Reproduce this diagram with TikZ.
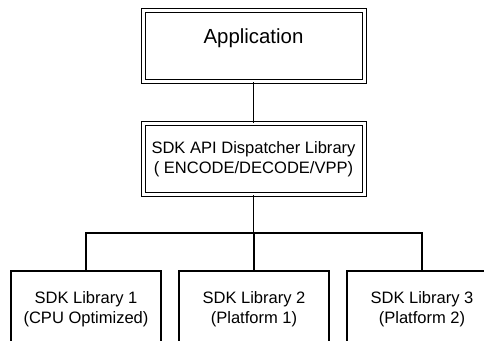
\documentclass[tikz,border=0pt]{standalone}
\usepackage{fontspec}
\setmainfont{Liberation Sans}
\begin{document}
\begin{tikzpicture}[x=0.75pt,y=-0.75pt,
  dbox/.style={draw, double, double distance=2.25pt, line width=0.75pt,
    minimum width=165.75pt, minimum height=53.25pt, inner sep=0pt, align=center},
  libbox/.style={draw, line width=0.95pt, minimum width=112.5pt, minimum height=57pt,
    inner sep=0pt, align=center, font=\fontsize{12.4}{14.6}\selectfont},
  conn/.style={line width=0.95pt}]
\useasboundingbox (0,0) rectangle (484,341);
\clip (0,0) rectangle (484,341);
\fill[white] (0,0) rectangle (484,341);
\node[dbox, font=\fontsize{15.3}{18}\selectfont] (app) at (253.5,46.5) {\raisebox{6.5pt}[\height][\depth]{Application}};
\node[dbox, font=\fontsize{12.4}{15}\selectfont] (disp) at (253.5,159.5) {SDK API Dispatcher Library\\( ENCODE/DECODE/VPP)};
\node[libbox] (b1) at (86,309) {SDK Library 1\\(CPU Optimized)};
\node[libbox] (b2) at (254,309) {SDK Library 2\\(Platform 1)};
\node[libbox] (b3) at (422,309) {SDK Library 3\\(Platform 2)};
\coordinate (j) at (253.5,233);
\draw[conn] (app.south) -- (disp.north);
\draw[conn] (disp.south) -- (j);
\draw[conn] (b1.north) |- (j) -| (b3.north);
\draw[conn] (j) -| (b2.north);
\end{tikzpicture}
\end{document}
